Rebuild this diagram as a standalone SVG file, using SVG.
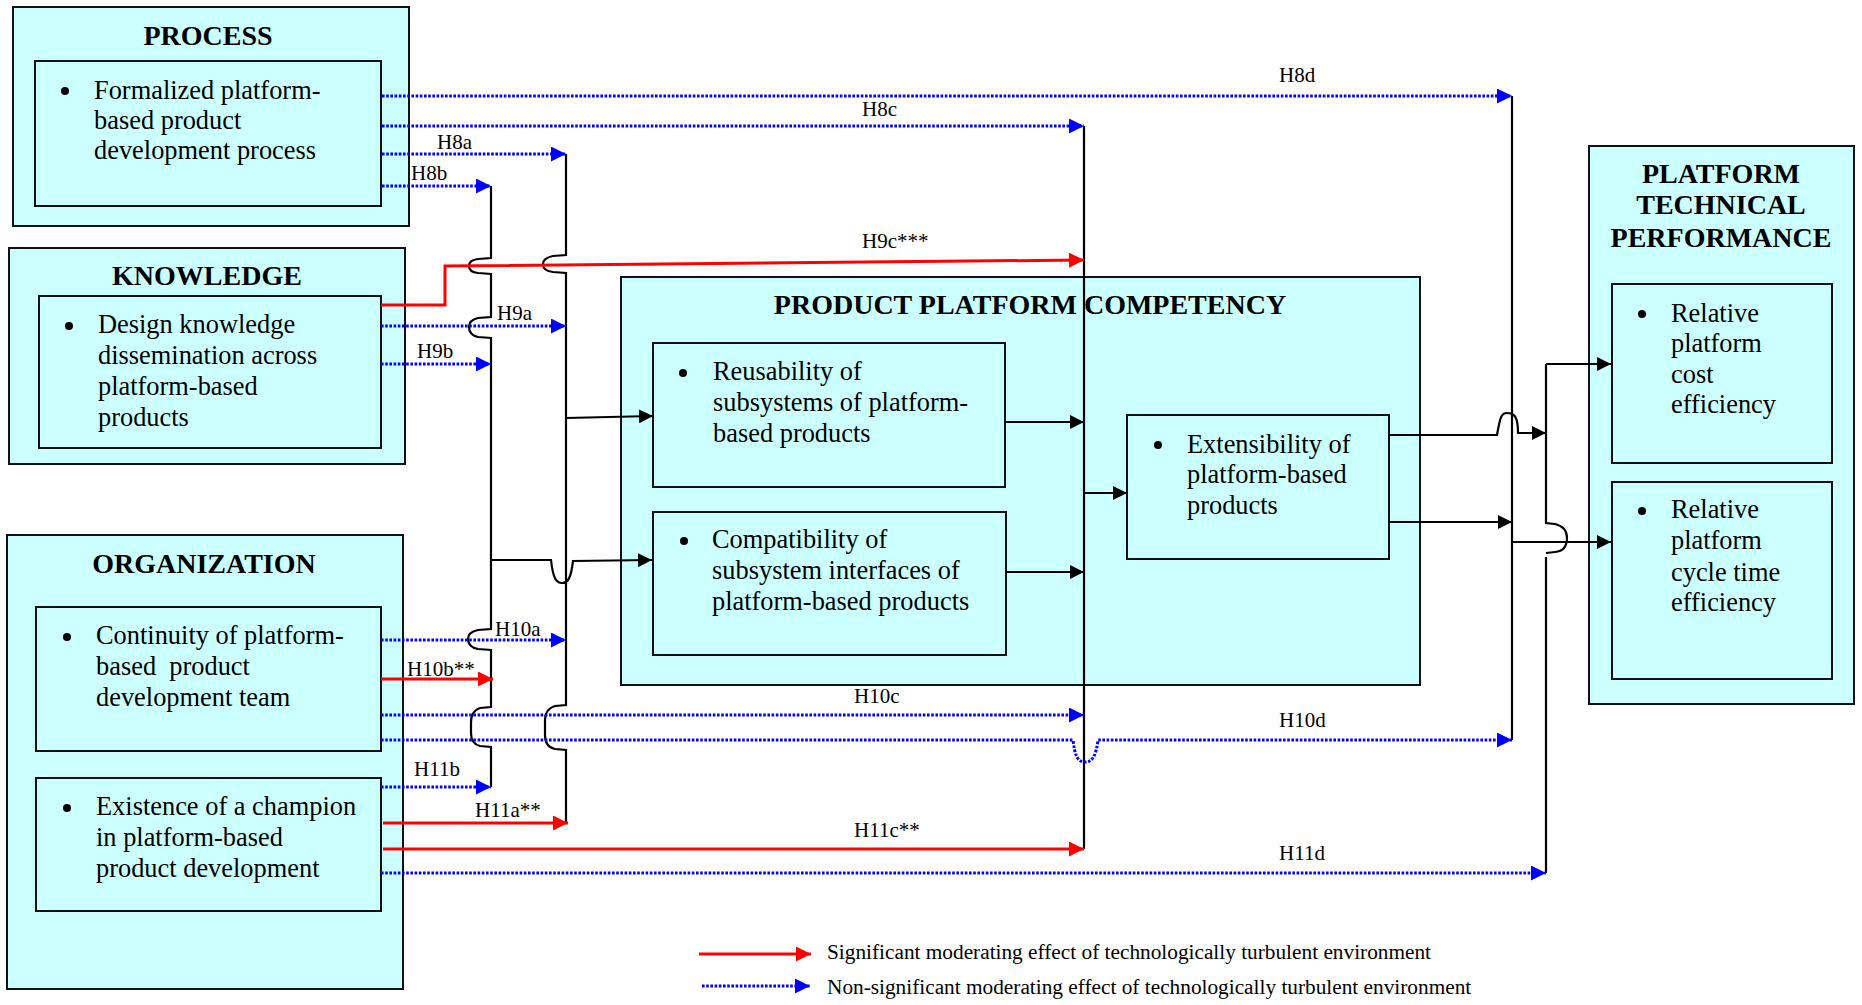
<svg xmlns="http://www.w3.org/2000/svg" width="1862" height="1005" viewBox="0 0 1862 1005">
  <style>
    .box { fill: #ccffff; stroke: #111; stroke-width: 2; }
    .title { font-family: "Liberation Serif", "Times New Roman", serif; font-weight: bold; font-size: 28px; fill: #000; text-anchor: middle; }
    .body { font-family: "Liberation Serif", "Times New Roman", serif; font-size: 26.4px; fill: #000; }
    .lbl { font-family: "Liberation Serif", "Times New Roman", serif; font-size: 21px; fill: #000; }
    .leg { font-family: "Liberation Serif", "Times New Roman", serif; font-size: 21.3px; fill: #000; }
    .dot { fill: #000; }
    .blk { fill: none; stroke: #000; stroke-width: 2.2; }
    .blkA { fill: none; stroke: #000; stroke-width: 2.2; marker-end: url(#arrowBlack); }
    .red { fill: none; stroke: #ff0000; stroke-width: 3; marker-end: url(#arrowRed); }
    .blue { fill: none; stroke: #0000ff; stroke-width: 3; stroke-dasharray: 2.6 1.6; marker-end: url(#arrowBlue); }
  </style>
  <defs>
    <marker id="arrowBlack" markerUnits="userSpaceOnUse" markerWidth="14" markerHeight="14" refX="14" refY="7" orient="auto">
      <path d="M0,0 L14,7 L0,14 Z" fill="#000"/>
    </marker>
    <marker id="arrowRed" markerUnits="userSpaceOnUse" markerWidth="15" markerHeight="15" refX="15" refY="7.5" orient="auto">
      <path d="M0,0 L15,7.5 L0,15 Z" fill="#ff0000"/>
    </marker>
    <marker id="arrowBlue" markerUnits="userSpaceOnUse" markerWidth="15" markerHeight="15" refX="15" refY="7.5" orient="auto">
      <path d="M0,0 L15,7.5 L0,15 Z" fill="#0000ff"/>
    </marker>
  </defs>

  <rect width="1862" height="1005" fill="#fff"/>

  <!-- Antecedent constructs -->
  <g id="process">
    <rect class="box" x="13" y="7" width="396" height="219"/>
    <text class="title" x="208" y="45">PROCESS</text>
    <g id="process-formalized">
      <rect class="box" x="35" y="61" width="346" height="145"/>
      <circle class="dot" cx="65" cy="91" r="4"/>
      <text class="body"><tspan x="94" y="99">Formalized platform-</tspan><tspan x="94" y="129">based product</tspan><tspan x="94" y="159">development process</tspan></text>
    </g>
  </g>

  <g id="knowledge">
    <rect class="box" x="9" y="248" width="396" height="216"/>
    <text class="title" x="207" y="285">KNOWLEDGE</text>
    <g id="knowledge-dissemination">
      <rect class="box" x="39" y="296" width="342" height="152"/>
      <circle class="dot" cx="69" cy="326" r="4"/>
      <text class="body"><tspan x="98" y="333">Design knowledge</tspan><tspan x="98" y="364">dissemination across</tspan><tspan x="98" y="395">platform-based</tspan><tspan x="98" y="426">products</tspan></text>
    </g>
  </g>

  <g id="organization">
    <rect class="box" x="7" y="535" width="396" height="454"/>
    <text class="title" x="204" y="573">ORGANIZATION</text>
    <g id="organization-continuity">
      <rect class="box" x="36" y="607" width="345" height="144"/>
      <circle class="dot" cx="67" cy="637" r="4"/>
      <text class="body" xml:space="preserve"><tspan x="96" y="644">Continuity of platform-</tspan><tspan x="96" y="675">based  product</tspan><tspan x="96" y="706">development team</tspan></text>
    </g>
    <g id="organization-champion">
      <rect class="box" x="36" y="778" width="345" height="133"/>
      <circle class="dot" cx="67" cy="808" r="4"/>
      <text class="body"><tspan x="96" y="815">Existence of a champion</tspan><tspan x="96" y="846">in platform-based</tspan><tspan x="96" y="877">product development</tspan></text>
    </g>
  </g>

  <!-- Mediating construct -->
  <g id="competency">
    <rect class="box" x="621" y="277" width="799" height="408"/>
    <text class="title" x="1030" y="314">PRODUCT PLATFORM COMPETENCY</text>
    <g id="competency-reusability">
      <rect class="box" x="653" y="343" width="352" height="144"/>
      <circle class="dot" cx="683" cy="373" r="4"/>
      <text class="body"><tspan x="713" y="380">Reusability of</tspan><tspan x="713" y="411">subsystems of platform-</tspan><tspan x="713" y="442">based products</tspan></text>
    </g>
    <g id="competency-compatibility">
      <rect class="box" x="653" y="512" width="353" height="143"/>
      <circle class="dot" cx="684" cy="541" r="4"/>
      <text class="body"><tspan x="712" y="548">Compatibility of</tspan><tspan x="712" y="579">subsystem interfaces of</tspan><tspan x="712" y="610">platform-based products</tspan></text>
    </g>
    <g id="competency-extensibility">
      <rect class="box" x="1127" y="415" width="262" height="144"/>
      <circle class="dot" cx="1158" cy="445" r="4"/>
      <text class="body"><tspan x="1187" y="453">Extensibility of</tspan><tspan x="1187" y="483">platform-based</tspan><tspan x="1187" y="514">products</tspan></text>
    </g>
  </g>

  <!-- Outcome construct -->
  <g id="performance">
    <rect class="box" x="1589" y="146" width="265" height="558"/>
    <text class="title"><tspan x="1721" y="183">PLATFORM</tspan><tspan x="1721" y="214">TECHNICAL</tspan><tspan x="1721" y="247">PERFORMANCE</tspan></text>
    <g id="performance-cost">
      <rect class="box" x="1612" y="284" width="220" height="179"/>
      <circle class="dot" cx="1642" cy="314" r="4"/>
      <text class="body"><tspan x="1671" y="322">Relative</tspan><tspan x="1671" y="352">platform</tspan><tspan x="1671" y="383">cost</tspan><tspan x="1671" y="413">efficiency</tspan></text>
    </g>
    <g id="performance-cycletime">
      <rect class="box" x="1612" y="482" width="220" height="197"/>
      <circle class="dot" cx="1642" cy="511" r="4"/>
      <text class="body"><tspan x="1671" y="518">Relative</tspan><tspan x="1671" y="549">platform</tspan><tspan x="1671" y="581">cycle time</tspan><tspan x="1671" y="611">efficiency</tspan></text>
    </g>
  </g>

  <g id="connectors">
    <!-- collector bus into compatibility (x=491), hopping over crossing lines -->
    <path class="blk" d="M491,186 L491,258 L478,259 Q469,260 469,266 Q469,272 478,273 L491,274 L491,317 L478,318 Q469,320 469,327 Q469,335 478,337 L491,338 L491,629 L478,630 Q468,632 468,639 Q468,647 478,649 L491,650 L491,707 L480,708 Q471,711 471,722 L471,733 Q471,744 480,746 L491,747 L491,787"/>
    <!-- collector bus into reusability (x=566) -->
    <path class="blk" d="M566,154 L566,255 L553,256 Q543,258 543,264 Q543,271 553,272 L566,273 L566,705 L555,706 Q545,709 545,720 L545,735 Q545,747 555,749 L566,750 L566,823"/>
    <path class="blkA" d="M566,418 L653,416"/>
    <path class="blkA" d="M491,560 L551,560 C553,578 556,583 562,583 C568,583 571,578 573,561 L652,560"/>

    <!-- competency internal links -->
    <path class="blk" d="M1084,126 L1084,849"/>
    <path class="blkA" d="M1005,422 L1084,422"/>
    <path class="blkA" d="M1006,572 L1084,572"/>
    <path class="blkA" d="M1084,493 L1127,493"/>

    <!-- links into performance -->
    <path class="blk" d="M1512,96 L1512,740"/>
    <path class="blkA" d="M1389,435 L1497,435 C1500,418 1501,413 1507,413 C1514,413 1518,416 1518,433 L1546,433"/>
    <path class="blkA" d="M1389,522 L1512,522"/>
    <path class="blkA" d="M1512,542 L1611,542"/>
    <path class="blk" d="M1546,364 L1546,523 L1555,524 Q1567,527 1567,538 Q1567,551 1555,552 L1546,553"/>
    <path class="blk" d="M1546,557 L1546,873"/>
    <path class="blkA" d="M1546,364 L1611,364"/>

    <!-- moderating effects: process -->
    <path class="blue" d="M382,96 L1512,96"/>
    <path class="blue" d="M382,126 L1084,126"/>
    <path class="blue" d="M382,154 L566,154"/>
    <path class="blue" d="M382,186 L491,186"/>
    <!-- moderating effects: knowledge -->
    <path class="red" d="M381,305 L445,305 L445,266 L1084,260"/>
    <path class="blue" d="M381,326 L566,326"/>
    <path class="blue" d="M381,364 L491,364"/>
    <!-- moderating effects: organization -->
    <path class="blue" d="M381,640 L566,640"/>
    <path class="red" d="M381,679 L493,679"/>
    <path class="blue" d="M381,715 L1084,715"/>
    <path class="blue" d="M381,740 L1073,740 C1075,755 1077,762 1085,762 C1093,762 1096,755 1098,740 L1512,740"/>
    <path class="blue" d="M381,787 L491,787"/>
    <path class="red" d="M383,823 L568,823"/>
    <path class="red" d="M383,849 L1084,849"/>
    <path class="blue" d="M381,873 L1546,873"/>

    <!-- hypothesis labels -->
    <text class="lbl" x="1279" y="82">H8d</text>
    <text class="lbl" x="862" y="116">H8c</text>
    <text class="lbl" x="437" y="149">H8a</text>
    <text class="lbl" x="411" y="180">H8b</text>
    <text class="lbl" x="862" y="248">H9c***</text>
    <text class="lbl" x="497" y="320">H9a</text>
    <text class="lbl" x="417" y="358">H9b</text>
    <text class="lbl" x="495" y="636">H10a</text>
    <text class="lbl" x="407" y="676">H10b**</text>
    <text class="lbl" x="854" y="703">H10c</text>
    <text class="lbl" x="1279" y="727">H10d</text>
    <text class="lbl" x="414" y="776">H11b</text>
    <text class="lbl" x="475" y="817">H11a**</text>
    <text class="lbl" x="854" y="837">H11c**</text>
    <text class="lbl" x="1279" y="860">H11d</text>
  </g>

  <g id="legend">
    <path class="red" d="M699,954 L811,954"/>
    <text class="leg" x="827" y="959">Significant moderating effect of technologically turbulent environment</text>
    <path class="blue" d="M702,986 L810,986"/>
    <text class="leg" x="827" y="994">Non-significant moderating effect of technologically turbulent environment</text>
  </g>
</svg>
